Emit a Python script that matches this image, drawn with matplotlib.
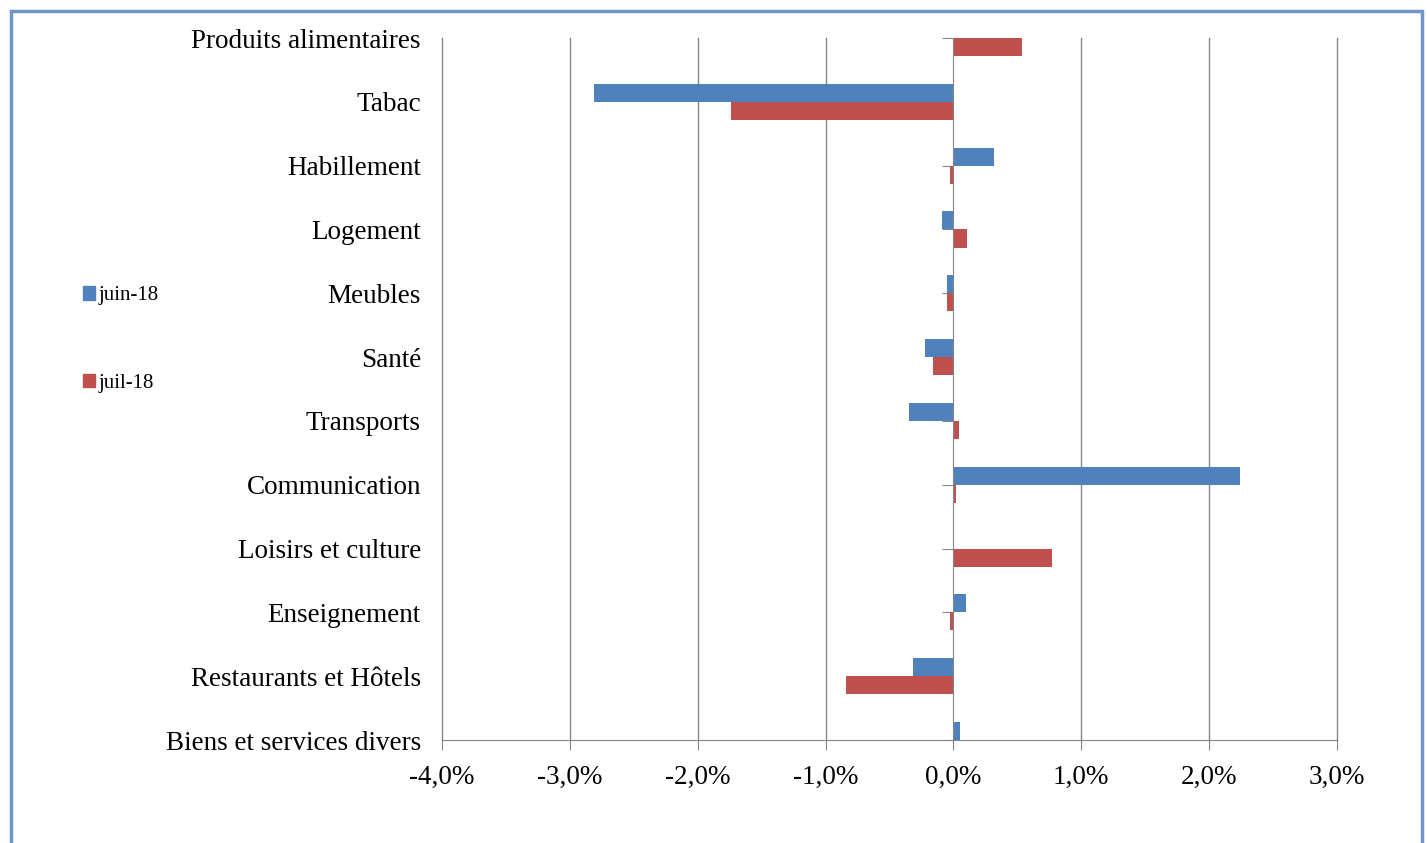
import numpy as np
import matplotlib.pyplot as plt
from matplotlib.patches import Patch, Rectangle

# Donnees (variation mensuelle, en %)
categories = ['Produits alimentaires', 'Tabac', 'Habillement', 'Logement', 'Meubles',
              'Santé', 'Transports', 'Communication', 'Loisirs et culture',
              'Enseignement', 'Restaurants et Hôtels', 'Biens et services divers']
juin_18 = [0.00, -2.81, 0.32, -0.09, -0.05, -0.22, -0.35, 2.24, 0.00, 0.10, -0.32, 0.05]
juil_18 = [0.54, -1.74, -0.03, 0.11, -0.05, -0.16, 0.04, 0.02, 0.77, -0.03, -0.84, -0.05]
x_ticks = [-4, -3, -2, -1, 0, 1, 2, 3]

plt.rcParams['font.family'] = ['Liberation Serif', 'DejaVu Serif']

bleu = '#4f81bd'
rouge = '#c0504d'
gris = '#868686'

fig = plt.figure(figsize=(14.27, 8.43), dpi=100)
ax = fig.add_axes([442 / 1427, 1 - 740 / 843, (1337 - 442) / 1427, (740 - 38) / 843])

y = np.arange(len(categories))
h = 0.283
ax.barh(y - h / 2, juin_18, height=h, color=bleu, label='juin-18', zorder=3)
ax.barh(y + h / 2, juil_18, height=h, color=rouge, label='juil-18', zorder=3)

ax.set_xlim(-4, 3)
ax.set_ylim(len(categories) - 1, 0)
ax.set_xticks(x_ticks)
ax.set_xticklabels(['{:.1f}%'.format(v).replace('.', ',') for v in x_ticks], fontsize=19.5)
ax.tick_params(axis='x', direction='out', length=7, color=gris, pad=11)
for xv in x_ticks:
    if xv != 0:
        ax.axvline(xv, color=gris, linewidth=1, zorder=0, clip_on=False)

# axe vertical place a 0
ax.spines['left'].set_position(('data', 0))
ax.spines['left'].set_color(gris)
ax.spines['left'].set_zorder(4)
ax.spines['bottom'].set_color(gris)
ax.spines['top'].set_visible(False)
ax.spines['right'].set_visible(False)
ax.set_yticks(y)
ax.tick_params(axis='y', direction='out', length=8, color=gris, labelleft=False)

for yi, cat in zip(y, categories):
    ax.text(-0.0235, yi, cat, transform=ax.get_yaxis_transform(), ha='right', va='center_baseline',
            fontsize=19.5)

handles = [Patch(color=bleu, label='juin-18'), Patch(color=rouge, label='juil-18')]
fig.legend(handles=handles, loc='center left', bbox_to_anchor=(0.045, 0.597), frameon=False,
           fontsize=15, handlelength=0.6, handleheight=0.6, handletextpad=0.15, labelspacing=3.3)

# cadre du graphique
fig.patches.append(Rectangle((11 / 1427, -0.05), 1411 / 1427, 1.05 - 11 / 843, transform=fig.transFigure,
                             fill=False, edgecolor='#6f94c8', linewidth=2.5))

fig.savefig('out.png', dpi=100)
